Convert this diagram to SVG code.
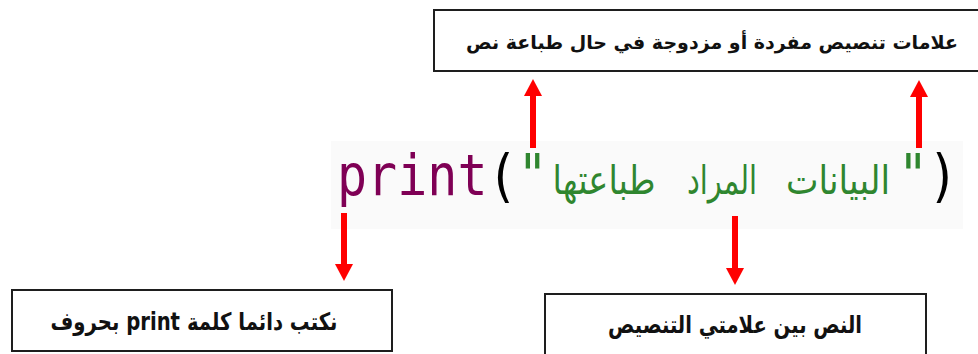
<svg xmlns="http://www.w3.org/2000/svg" width="978" height="354" viewBox="0 0 978 354">
  <style>
    .box { fill: #ffffff; stroke: #1e1e1e; stroke-width: 2; }
    .label { font-family: "DejaVu Sans", "Noto Sans", sans-serif; font-weight: bold; font-size: 20px; fill: #111111; text-anchor: middle; }
    .code { font-family: "DejaVu Sans Mono", "Liberation Mono", monospace; font-size: 50px; }
    .kw { fill: #7f0055; }
    .str { fill: #2f862f; }
    .ar { font-family: "DejaVu Sans", sans-serif; font-size: 34px; fill: #2f862f; text-anchor: middle; }
    .arrow { stroke: #ff0000; stroke-width: 6; fill: none; marker-end: url(#head); }
  </style>
  <defs>
    <marker id="head" viewBox="0 0 17 18" refX="0" refY="9" markerWidth="17" markerHeight="18" markerUnits="userSpaceOnUse" orient="auto">
      <path d="M0,0 L17,9 L0,18 Z" fill="#ff0000"/>
    </marker>
  </defs>

  <rect width="978" height="354" fill="#ffffff"/>

  <!-- code line: print("...") -->
  <g id="code">
    <rect x="331" y="141" width="632" height="88" fill="#fafafa"/>
    <g transform="translate(0,195) scale(1,1.15) translate(0,-195)">
      <text class="code" x="337" y="195"><tspan class="kw">print</tspan><tspan fill="#000000">(</tspan><tspan class="str">"</tspan></text>
      <text class="code" x="898" y="195"><tspan class="str">"</tspan><tspan fill="#000000">)</tspan></text>
    </g>
    <g transform="translate(0,194) scale(1,1.18) translate(0,-194)">
      <text class="ar" x="604" y="194" textLength="103" lengthAdjust="spacingAndGlyphs">طباعتها</text>
      <text class="ar" x="722" y="194" textLength="70" lengthAdjust="spacingAndGlyphs">المراد</text>
      <text class="ar" x="838" y="194" textLength="104" lengthAdjust="spacingAndGlyphs">البيانات</text>
    </g>
  </g>

  <!-- labels are stretched slightly upward from their baselines -->
  <g id="quotes-note">
    <!-- box runs past the right edge, so only three sides show -->
    <rect x="434" y="10" width="544" height="61" fill="#ffffff"/>
    <path d="M978,10 H434 V71 H978" fill="none" stroke="#1e1e1e" stroke-width="2"/>
    <text class="label" x="712" y="49" style="font-size:19px">علامات تنصيص مفردة أو مزدوجة في حال طباعة نص</text>
  </g>

  <g id="print-note">
    <rect class="box" x="12" y="290" width="380" height="61"/>
    <text class="label" x="194" y="330" direction="rtl" textLength="287" lengthAdjust="spacingAndGlyphs" transform="translate(0,330) scale(1,1.2) translate(0,-330)">نكتب دائما كلمة print بحروف</text>
  </g>

  <g id="text-note">
    <rect class="box" x="545" y="294" width="381" height="70"/>
    <text class="label" x="735" y="333" textLength="254" lengthAdjust="spacingAndGlyphs" transform="translate(0,333) scale(1,1.2) translate(0,-333)">النص بين علامتي التنصيص</text>
  </g>

  <g id="connectors">
    <line class="arrow" x1="533" y1="148" x2="533" y2="96"/>
    <line class="arrow" x1="919" y1="148" x2="919" y2="97"/>
    <line class="arrow" x1="344" y1="213" x2="344" y2="264"/>
    <line class="arrow" x1="735" y1="216" x2="735" y2="268"/>
  </g>
</svg>
